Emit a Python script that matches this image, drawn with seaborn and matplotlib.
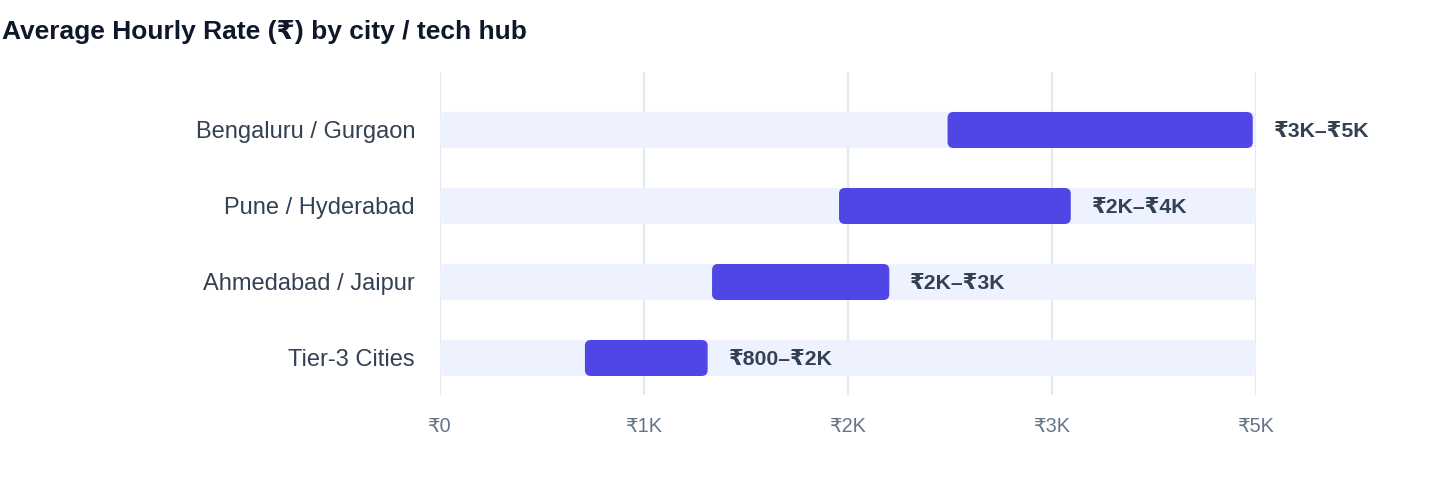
import matplotlib
matplotlib.use("Agg")
import matplotlib.pyplot as plt
from matplotlib.patches import FancyBboxPatch
import seaborn as sns
import pandas as pd

# ---- data ----
cities = ["Bengaluru / Gurgaon", "Pune / Hyderabad", "Ahmedabad / Jaipur", "Tier-3 Cities"]
rate_low = [3110, 2445, 1667, 888]
rate_high = [4980, 3865, 2753, 1640]
range_labels = ["₹3K–₹5K", "₹2K–₹4K", "₹2K–₹3K", "₹800–₹2K"]
axis_max = 5000
tick_values = [0, 1250, 2500, 3750, 5000]
tick_labels = ["₹0", "₹1K", "₹2K", "₹3K", "₹5K"]
title = "Average Hourly Rate (₹) by city / tech hub"

sns.set_theme(style="white")
FONT = ["Liberation Sans", "DejaVu Sans"]
plt.rcParams["font.family"] = FONT

df = pd.DataFrame({
    "city": cities,
    "low": rate_low,
    "high": rate_high,
    "span": [h - l for h, l in zip(rate_high, rate_low)],
    "full": [axis_max] * len(cities),
})

W, H = 1440, 484
fig = plt.figure(figsize=(W / 100, H / 100), dpi=100)
ax = fig.add_axes([440 / W, 1 - 395 / H, 816 / W, 323 / H])

BAR_H = 0.474
sns.barplot(data=df, x="full", y="city", order=cities, color="#EEF2FF",
            saturation=1, width=BAR_H, ax=ax, zorder=2)
n_bg = len(ax.patches)
sns.barplot(data=df, x="span", y="city", order=cities, color="#4F46E5",
            saturation=1, width=BAR_H, ax=ax, zorder=3)

# shift range bars to start at low value
for p, lo in zip(ax.patches[n_bg:], rate_low):
    p.set_x(lo)

ax.set_xlim(0, axis_max)
ax.set_ylim(3.487, -0.763)

# rounded corners
px_x = axis_max / 816.0
px_y = 1.0 / 76.0
radius_px = 6
old = list(ax.patches)
for i, p in enumerate(old):
    x, y, w, h = p.get_x(), p.get_y(), p.get_width(), p.get_height()
    fc = p.get_facecolor()
    z = p.get_zorder()
    p.remove()
    r = radius_px * px_x
    fb = FancyBboxPatch((x, y), w, h,
                        boxstyle=f"round,pad=0,rounding_size={r}",
                        mutation_aspect=px_y / px_x,
                        facecolor=fc, edgecolor="none", zorder=z)
    ax.add_patch(fb)

# value labels
for i, (hi, lab) in enumerate(zip(rate_high, range_labels)):
    ax.text(hi + 21 * px_x, i, lab, ha="left", va="center_baseline",
            fontsize=15.3, fontweight="bold", color="#334155", family=FONT,
            zorder=5)

# grid & axes
ax.set_xticks(tick_values)
ax.set_xticklabels(tick_labels)
ax.grid(axis="x", color="#E2E8F0", linewidth=1.5, zorder=0)
ax.grid(axis="y", visible=False)
ax.set_axisbelow(True)
for s in ax.spines.values():
    s.set_visible(False)
ax.set_xlabel("")
ax.set_ylabel("")
ax.tick_params(axis="x", length=0, pad=16, labelsize=14.3, labelcolor="#64748B")
ax.tick_params(axis="y", length=0, pad=18, labelsize=17, labelcolor="#334155")
for t in ax.get_xticklabels() + ax.get_yticklabels():
    t.set_family(FONT)

fig.text(2 / W, 1 - 32 / H, title, ha="left", va="center", fontsize=19,
         fontweight="bold", color="#0F172A", family=FONT)

fig.savefig("out.png", dpi=100, facecolor="white")
